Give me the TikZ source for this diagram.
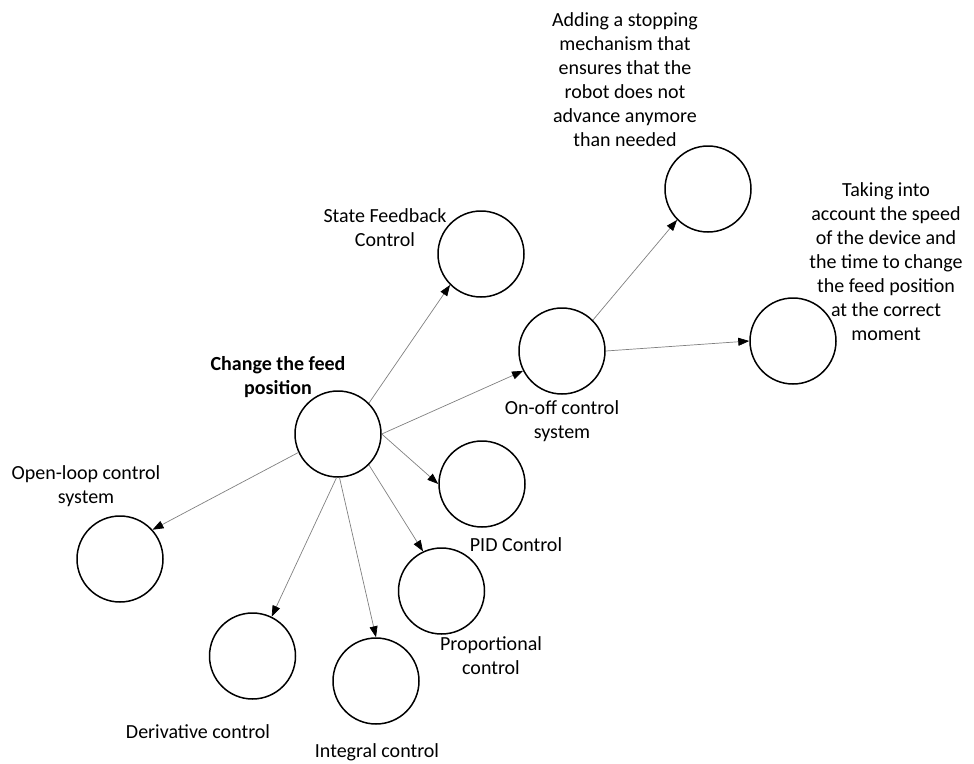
\documentclass[tikz,border=0pt]{standalone}
\usepackage{fontspec}
\setmainfont{Carlito}
\usetikzlibrary{arrows.meta}
\tikzset{
  state/.style={circle, draw=black, line width=1.5pt, minimum size=86pt, inner sep=0pt},
  lbl/.style={align=center, inner sep=0pt, font=\fontsize{20}{24}\selectfont},
  link/.style={draw=black!50, line width=0.7pt,
    -{Triangle[length=11pt,width=8pt,color=black,fill=black]}}
}
\begin{document}
\begin{tikzpicture}[x=1pt,y=-1pt]
\useasboundingbox (0,0) rectangle (974,763);

% circles
\node[state] (feed)  at (338,434) {};
\node[state] (sfc)   at (481,254) {};
\node[state] (onoff) at (562,351) {};
\node[state] (stop)  at (708,189) {};
\node[state] (speed) at (793,341) {};
\node[state] (pid)   at (482,484) {};
\node[state] (prop)  at (441.5,591) {};
\node[state] (integ) at (376,681) {};
\node[state] (deriv) at (252.5,656) {};
\node[state] (open)  at (120,559) {};

% labels
\node[lbl, font=\fontsize{20}{24}\selectfont\bfseries] (feedL) at (278,377) {Change the feed\\position};
\node[lbl] (sfcL)   at (385,228) {State Feedback\\Control};
\node[lbl] (stopL)  at (625,80)  {Adding a stopping\\mechanism that\\ensures that the\\robot does not\\advance anymore\\than needed};
\node[lbl] (speedL) at (886,262) {Taking into\\account the speed\\of the device and\\the time to change\\the feed position\\at the correct\\moment};
\node[lbl] (onoffL) at (562,421) {On-off control\\system};
\node[lbl] (openL)  at (86,486)  {Open-loop control\\system};
\node[lbl] (pidL)   at (516,545) {PID Control};
\node[lbl] (propL)  at (491,656) {Proportional\\control};
\node[lbl] (derivL) at (198,732) {Derivative control};
\node[lbl] (integL) at (377,752) {Integral control};

% connectors, attached at fixed points of the circles
\draw[link] (feed.45)   -- (sfc.225);
\draw[link] (feed.0)    -- (onoff.207);
\draw[link] (feed.0)    -- (pid.180);
\draw[link] (feed.-45)  -- (prop.115);
\draw[link] (feed.-88)  -- (integ.90);
\draw[link] (feed.-92)  -- (deriv.64);
\draw[link] (feed.205)  -- (open.42);
\draw[link] (onoff.45)  -- (stop.225);
\draw[link] (onoff.0)   -- (speed.180);
\end{tikzpicture}
\end{document}
